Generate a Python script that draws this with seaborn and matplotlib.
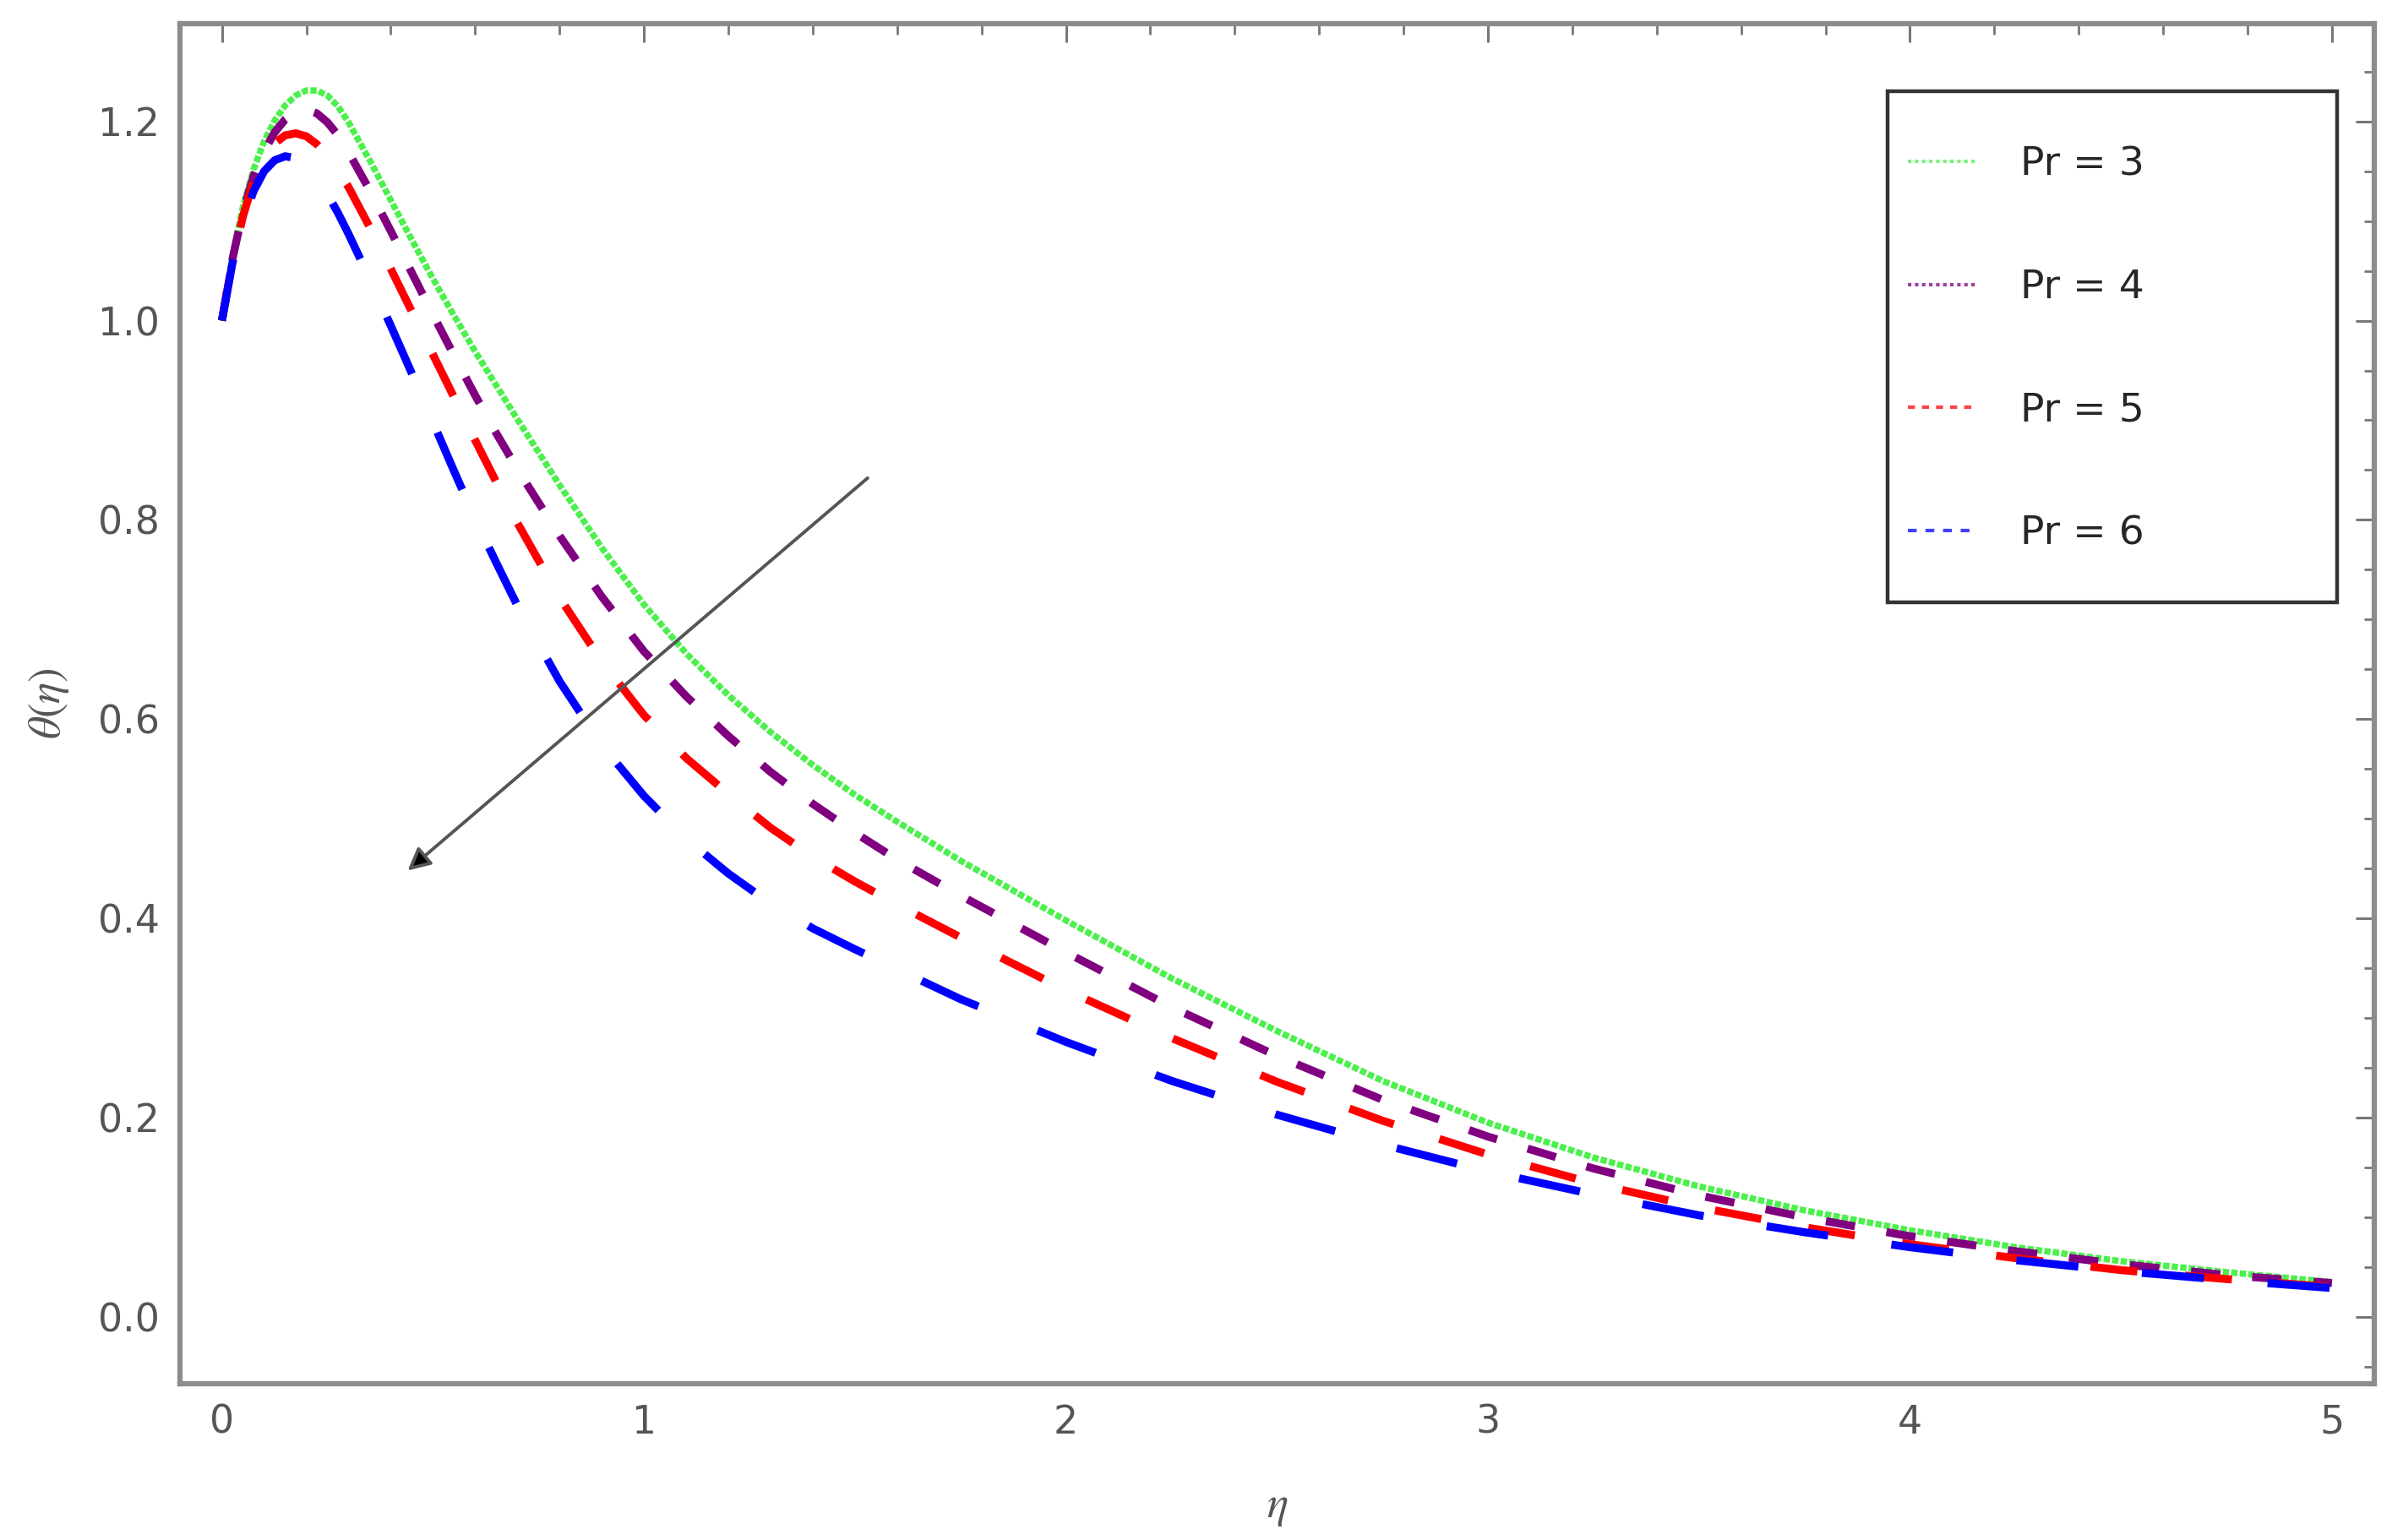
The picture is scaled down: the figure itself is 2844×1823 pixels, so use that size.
import numpy as np
import pandas as pd
import matplotlib
matplotlib.use("Agg")
import matplotlib.pyplot as plt
from matplotlib.lines import Line2D
from matplotlib.patches import Rectangle
import seaborn as sns

# 数据
eta = [0, 0.025, 0.05, 0.075, 0.1, 0.125, 0.15, 0.175, 0.2, 0.225, 0.25, 0.275,
       0.3, 0.35, 0.4, 0.45, 0.5, 0.55, 0.6, 0.65, 0.7, 0.8, 0.9, 1.0, 1.1, 1.2,
       1.3, 1.4, 1.5, 1.6, 1.75, 2.0, 2.25, 2.5, 2.75, 3.0, 3.25, 3.5, 3.75, 4.0,
       4.25, 4.5, 4.75, 5.0]

theta_pr3 = [1.000, 1.065, 1.115, 1.152, 1.180, 1.201, 1.216, 1.226, 1.231, 1.231,
             1.226, 1.215, 1.199, 1.161, 1.121, 1.081, 1.042, 1.005, 0.969, 0.935,
             0.901, 0.835, 0.772, 0.715, 0.666, 0.624, 0.587, 0.554, 0.524, 0.497,
             0.458, 0.398, 0.340, 0.287, 0.237, 0.195, 0.160, 0.131, 0.107, 0.087,
             0.070, 0.056, 0.045, 0.035]
theta_pr4 = [1.000, 1.062, 1.110, 1.145, 1.170, 1.189, 1.202, 1.210, 1.212, 1.208,
             1.199, 1.186, 1.169, 1.131, 1.090, 1.048, 1.006, 0.965, 0.925, 0.887,
             0.851, 0.784, 0.723, 0.668, 0.623, 0.583, 0.547, 0.515, 0.486, 0.459,
             0.423, 0.366, 0.311, 0.262, 0.218, 0.181, 0.149, 0.122, 0.100, 0.081,
             0.066, 0.053, 0.042, 0.034]
theta_pr5 = [1.000, 1.060, 1.105, 1.140, 1.163, 1.178, 1.186, 1.188, 1.185, 1.177,
             1.165, 1.150, 1.134, 1.094, 1.052, 1.009, 0.966, 0.923, 0.880, 0.838,
             0.797, 0.722, 0.658, 0.604, 0.561, 0.525, 0.491, 0.462, 0.437, 0.414,
             0.381, 0.328, 0.280, 0.236, 0.197, 0.163, 0.134, 0.110, 0.090, 0.073,
             0.059, 0.047, 0.038, 0.030]
theta_pr6 = [1.000, 1.058, 1.100, 1.130, 1.150, 1.161, 1.165, 1.163, 1.155, 1.143,
             1.127, 1.108, 1.087, 1.042, 0.995, 0.947, 0.898, 0.849, 0.801, 0.757,
             0.714, 0.638, 0.574, 0.523, 0.480, 0.445, 0.415, 0.390, 0.369, 0.349,
             0.319, 0.276, 0.237, 0.203, 0.173, 0.146, 0.123, 0.102, 0.085, 0.070,
             0.057, 0.046, 0.037, 0.029]

labels = ["Pr = 3", "Pr = 4", "Pr = 5", "Pr = 6"]
colors = ["#4cf04c", "#800080", "#ff0000", "#0000ff"]

sns.set_style("white")
plt.rcParams["font.family"] = ["DejaVu Sans"]
plt.rcParams["mathtext.fontset"] = "stix"

fig = plt.figure(figsize=(28.44, 18.23), dpi=100)
ax = fig.add_axes([0.0748, 0.1015, 0.9132, 0.8831])

series = [theta_pr3, theta_pr4, theta_pr5, theta_pr6]
widths = [5.4, 6.8, 6.8, 6.8]
dash_list = [(1.0, 0.35), (3.7, 4.0), (5.9, 6.0), (7.8, 8.0)]
for vals, c, lw, d in zip(series, colors, widths, dash_list):
    sns.lineplot(x=eta, y=vals, ax=ax, color=c, linewidth=lw)
    ax.lines[-1].set_dashes(d)
    ax.lines[-1].set_dash_capstyle("butt")

# 箭头
ax.annotate("", xy=(0.44, 0.448), xytext=(1.53, 0.842),
            arrowprops=dict(arrowstyle="-|>", color="#555555", fc="black",
                            lw=2.8, mutation_scale=40, shrinkA=0, shrinkB=0))

ax.set_xlim(-0.1, 5.1)
ax.set_ylim(-0.067, 1.298)
ax.set_xticks([0, 1, 2, 3, 4, 5])
ax.set_xticks(np.arange(0, 5.01, 0.2), minor=True)
ax.set_yticks([0.0, 0.2, 0.4, 0.6, 0.8, 1.0, 1.2])
ax.set_yticks(np.arange(-0.05, 1.26, 0.05), minor=True)
ax.set_yticklabels(["0.0", "0.2", "0.4", "0.6", "0.8", "1.0", "1.2"])

for s in ax.spines.values():
    s.set_visible(True)
    s.set_color("#8c8c8c")
    s.set_linewidth(4.5)

ax.tick_params(which="both", direction="in", top=True, right=True,
               color="#777777", labelcolor="#555555", labelsize=33)
ax.tick_params(which="major", length=16, width=2.2, pad=17)
ax.tick_params(which="minor", length=9, width=2.0)

ax.set_xlabel(r"$\eta$", fontsize=38, color="#555555", labelpad=36)
ax.set_ylabel(r"$\theta(\eta)$", fontsize=38, color="#555555", labelpad=23)

# 图例
handles = [
    Line2D([], [], color=colors[0], lw=3, dashes=(1.0, 1.0), alpha=0.75),
    Line2D([], [], color=colors[1], lw=3, dashes=(1.0, 1.0), alpha=0.75),
    Line2D([], [], color=colors[2], lw=3, dashes=(2.0, 2.0), alpha=0.75),
    Line2D([], [], color=colors[3], lw=3, dashes=(2.5, 2.5), alpha=0.75),
]
fig.legend(handles, labels, loc="upper left", bbox_to_anchor=(0.794, 0.9053),
           frameon=False, fontsize=34, borderpad=0, borderaxespad=0,
           handlelength=1.74, handletextpad=1.08, labelspacing=2.13)
fig.patches.append(Rectangle((0.7855, 0.6089), 0.1871, 0.3319,
                             transform=fig.transFigure, fill=False,
                             ec="#333333", lw=3.2))

fig.savefig("out.png", dpi=100)
